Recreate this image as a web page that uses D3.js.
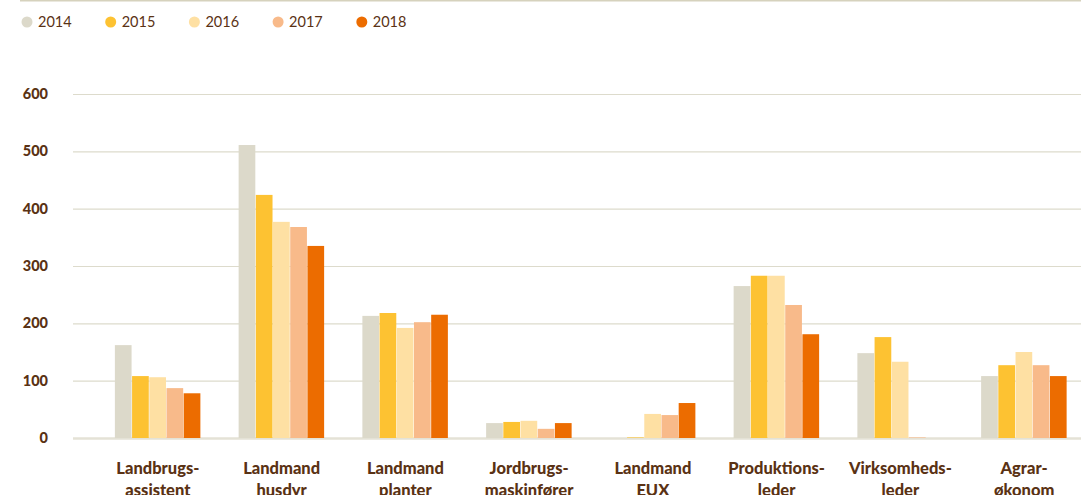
<!DOCTYPE html>
<html>
<head>
<meta charset="utf-8">
<script src="https://cdn.jsdelivr.net/npm/d3@7"></script>
<style>
  body { margin: 0; background: #fff; }
  svg { display: block; }
</style>
</head>
<body>
<div id="chart"></div>
<script>
  // data

  const categories = [
    ["Landbrugs-", "assistent"],
    ["Landmand", "husdyr"],
    ["Landmand", "planter"],
    ["Jordbrugs-", "maskinfører"],
    ["Landmand", "EUX"],
    ["Produktions-", "leder"],
    ["Virksomheds-", "leder"],
    ["Agrar-", "økonom"]
  ];
  const years = ["2014", "2015", "2016", "2017", "2018"];
  const values2014 = [162, 511, 213, 26, 0, 265, 148, 108];
  const values2015 = [108, 424, 218, 28, 1, 283, 176, 127];
  const values2016 = [106, 377, 192, 30, 42, 283, 133, 150];
  const values2017 = [87, 368, 202, 16, 40, 232, 1, 127];
  const values2018 = [78, 335, 215, 26, 61, 181, 0, 108];
  const yTicks = [0, 100, 200, 300, 400, 500, 600];
  const colors = ["#dcd9ca", "#fdc232", "#fee0a3", "#f8ba8a", "#ec6c00"];

  const series = [values2014, values2015, values2016, values2017, values2018];

  // config

  const width = 1081;
  const height = 495;
  const margin = { top: 94, bottom: 57, left: 73, right: 0 };
  const textColor = "#5a3214";
  const gridColor = "#dddbcc";
  const font = "Lato, 'Open Sans', sans-serif";

  const svg = d3.select("#chart")
    .append("svg")
    .attr("width", width)
    .attr("height", height);

  // scales

  const x0 = d3.scaleBand()
    .domain(d3.range(categories.length))
    .range([96, 1086])
    .paddingInner(0.3)
    .paddingOuter(0.15);

  const x1 = d3.scaleBand()
    .domain(years)
    .range([-43, 43])
    .padding(0);

  const y = d3.scaleLinear()
    .domain([0, 600])
    .range([height - margin.bottom, margin.top]);

  // top rule

  svg.append("line")
    .attr("x1", 20).attr("x2", width)
    .attr("y1", 0.5).attr("y2", 0.5)
    .attr("stroke", "#d6d2bd")
    .attr("stroke-width", 2);

  // legend

  const legend = svg.append("g")
    .selectAll("g")
    .data(years)
    .join("g")
    .attr("transform", (d, i) => `translate(${27 + i * 83.7}, 22)`);

  legend.append("circle")
    .attr("r", 5.5)
    .attr("fill", (d, i) => colors[i]);

  legend.append("text")
    .attr("x", 11)
    .attr("y", 5)
    .style("font-family", font)
    .style("font-size", "14.5px")
    .style("fill", textColor)
    .text(d => d);

  // y axis + grid

  const yAxis = d3.axisLeft(y)
    .tickValues(yTicks)
    .tickSize(-(width - margin.left))
    .tickPadding(25);

  svg.append("g")
    .attr("transform", `translate(${margin.left}, 0)`)
    .call(yAxis)
    .call(g => g.select(".domain").remove())
    .call(g => g.selectAll(".tick line")
      .attr("stroke", d => d === 0 ? "#e4e2d6" : gridColor)
      .attr("stroke-width", d => d === 0 ? 2.5 : 1.2))
    .call(g => g.selectAll(".tick text")
      .style("font-family", font)
      .style("font-size", "14.5px")
      .style("font-weight", "900")
      .attr("fill", textColor));

  // bars

  const groups = svg.append("g")
    .selectAll("g")
    .data(categories)
    .join("g")
    .attr("transform", (d, i) => `translate(${x0(i) + x0.bandwidth() / 2}, 0)`);

  groups.selectAll("rect")
    .data((d, i) => series.map((s, j) => ({ year: years[j], value: s[i], color: colors[j] })))
    .join("rect")
    .attr("x", d => x1(d.year))
    .attr("y", d => y(d.value))
    .attr("width", x1.bandwidth() - 0.5)
    .attr("height", d => y(0) - y(d.value))
    .attr("fill", d => d.color);

  // category labels

  const labels = groups.append("text")
    .attr("text-anchor", "middle")
    .style("font-family", font)
    .style("font-size", "16.5px")
    .style("font-weight", "900")
    .style("fill", textColor);

  labels.selectAll("tspan")
    .data(d => d)
    .join("tspan")
    .attr("x", 0)
    .attr("y", (d, i) => 473.5 + i * 22.5)
    .text(d => d);
</script>
</body>
</html>
